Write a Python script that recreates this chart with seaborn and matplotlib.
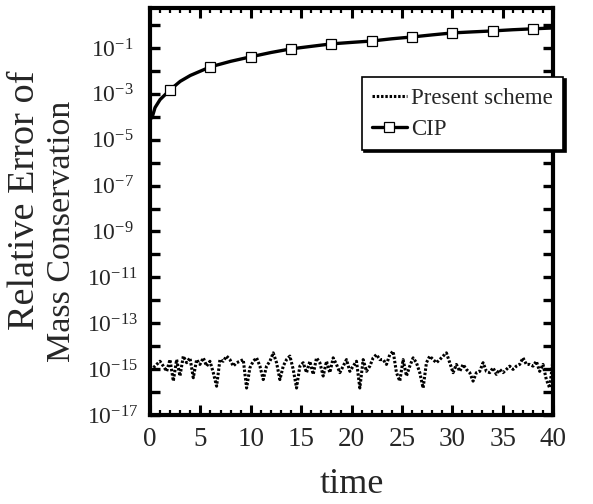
import numpy as np
import pandas as pd
import matplotlib
matplotlib.use("Agg")
import matplotlib.pyplot as plt
import seaborn as sns
from matplotlib.ticker import FixedLocator, FuncFormatter, MultipleLocator, NullLocator

# ---------------- data ----------------
cip_time = [0.2, 0.5, 1, 2, 3, 4, 6, 8, 10, 12, 14, 16, 18, 20, 22, 24,
            26, 28, 30, 32, 34, 36, 38, 40]
cip_error = [9e-5, 2.5e-4, 5.6e-4, 1.5e-3, 3.5e-3, 6.3e-3, 1.5e-2, 2.6e-2,
             4.1e-2, 6.3e-2, 9.1e-2, 0.117, 0.15, 0.174, 0.2, 0.25,
             0.3, 0.37, 0.45, 0.5, 0.55, 0.62, 0.68, 0.74]
cip_marker_times = [2, 6, 10, 14, 18, 22, 26, 30, 34, 38]

present_error = [
    9e-16, 1.15e-15, 1.6e-15, 2.2e-15, 1.35e-15, 8e-16, 2.6e-15, 3e-16,
    2.6e-15, 5e-16, 3.7e-15, 1.9e-15, 3.1e-15, 4.2e-16, 2.6e-15, 1.6e-15,
    3.1e-15, 1.35e-15, 2.2e-15, 7e-16, 1.8e-16, 2.6e-15, 2.2e-15, 3.7e-15,
    2.6e-15, 1.35e-15, 1.9e-15, 2.2e-15, 2.6e-15, 1.5e-16, 1.15e-15,
    2.2e-15, 3.1e-15, 1.35e-15, 3.5e-16, 1.35e-15, 2.2e-15, 5.1e-15, 1.9e-15,
    3.5e-16, 1.35e-15, 2.6e-15, 3.7e-15, 9.7e-16, 1.5e-16, 1.35e-15, 1.9e-15,
    7e-16, 2.2e-15, 5.9e-16, 3.1e-15, 1.9e-15, 5e-16, 2.2e-15, 7e-16,
    3.1e-15, 1.6e-15, 7e-16, 1.35e-15, 2.6e-15, 8e-16, 1.35e-15,
    2.2e-15, 1.5e-16, 2.6e-15, 8e-16, 1.35e-15, 3.1e-15, 4.3e-15, 2.6e-15,
    2.6e-15, 1.6e-15, 4.3e-15, 6e-15, 7e-16, 3e-16, 2.6e-15, 5e-16,
    1.35e-15, 3.1e-15, 1.9e-15, 7e-16, 1.5e-16, 1.9e-15, 3.7e-15, 2.6e-15,
    1.9e-15, 2.6e-15, 3.7e-15, 5.1e-15, 1.9e-15, 7e-16, 1.6e-15,
    8e-16, 1.6e-15, 9.7e-16, 7e-16, 3e-16, 7e-16, 8e-16, 1.9e-15,
    8e-16, 7e-16, 1.15e-15, 5.9e-16, 9.7e-16, 7e-16, 9.7e-16, 1.35e-15,
    9.7e-16, 1.35e-15, 1.6e-15, 3.1e-15, 1.6e-15, 1.6e-15, 1.35e-15, 2.2e-15,
    8e-16, 1.6e-15, 3.5e-16, 1.5e-16, 2.6e-15,
]
present_time = np.linspace(0, 40, len(present_error))

x_ticks = [0, 5, 10, 15, 20, 25, 30, 35, 40]
y_exponents = list(range(-17, 1))
labelled_exponents = [-1, -3, -5, -7, -9, -11, -13, -15, -17]

df_present = pd.DataFrame({"time": present_time, "err": present_error})
df_cip = pd.DataFrame({"time": cip_time, "err": cip_error})

# ---------------- style ----------------
sns.set_theme(style="ticks")
plt.rcParams["font.family"] = ["Liberation Serif", "DejaVu Serif"]
plt.rcParams["mathtext.fontset"] = "custom"
plt.rcParams["mathtext.rm"] = "Liberation Serif"
plt.rcParams["mathtext.it"] = "Liberation Serif:italic"
plt.rcParams["mathtext.bf"] = "Liberation Serif:bold"

fig = plt.figure(figsize=(5.93, 5.04), dpi=100)
ax = fig.add_axes([150 / 593, 1 - 415 / 504, 403 / 593, 407 / 504])

sns.lineplot(data=df_present, x="time", y="err", ax=ax, color="black",
             linewidth=2.2, linestyle=(0, (0.8, 0.6)), label="Present scheme")

mark_idx = [cip_time.index(t) for t in cip_marker_times]
sns.lineplot(data=df_cip, x="time", y="err", ax=ax, color="black",
             linewidth=2.4, marker="s", markersize=7.5, markevery=mark_idx,
             markerfacecolor="white", markeredgecolor="black",
             markeredgewidth=0.9, label="CIP")

ax.set_yscale("log")
ax.set_xlim(0, 40)
ax.set_ylim(1e-17, 10 ** 0.74)

ax.xaxis.set_major_locator(FixedLocator(x_ticks))
ax.xaxis.set_minor_locator(MultipleLocator(1))
ax.yaxis.set_major_locator(FixedLocator([10.0 ** e for e in y_exponents]))
ax.yaxis.set_minor_locator(NullLocator())


def ylab(v, pos):
    e = int(round(np.log10(v)))
    if e in labelled_exponents:
        return r"$\mathregular{10^{%d}}$" % e
    return ""


ax.yaxis.set_major_formatter(FuncFormatter(ylab))
ax.xaxis.set_major_formatter(FuncFormatter(lambda v, p: "%d" % v))

for s in ax.spines.values():
    s.set_linewidth(3.0)
    s.set_color("black")

ax.tick_params(which="both", direction="in", top=True, right=True,
               color="black")
ax.tick_params(axis="y", which="major", length=7, width=2.4, labelsize=17,
               pad=27)
ax.tick_params(axis="x", which="major", length=7, width=2.2, labelsize=19.5,
               pad=9)
ax.tick_params(axis="x", which="minor", length=3.5, width=1.6)
plt.setp(ax.get_yticklabels(), ha="center")

ax.set_xlabel("time", fontsize=26, labelpad=11)
ax.set_ylabel("")

fig.text(25 / 593, 1 - 200 / 504, "Relative Error of", rotation=90,
         fontsize=27.5, ha="center", va="center")
fig.text(62 / 593, 1 - 231 / 504, "Mass Conservation", rotation=90,
         fontsize=24.5, ha="center", va="center")

leg = ax.legend(loc="upper left", bbox_to_anchor=(0.526, 0.83),
                fontsize=16.5, frameon=True, fancybox=False,
                edgecolor="black", framealpha=1, handlelength=1.5,
                handletextpad=0.2, borderpad=0.45, labelspacing=0.45,
                borderaxespad=0,
                shadow={"color": "black", "alpha": 1, "ox": 1.6, "oy": -1.6})
leg.get_frame().set_linewidth(1.2)

ax.grid(False)
fig.savefig("out.png", dpi=100)
